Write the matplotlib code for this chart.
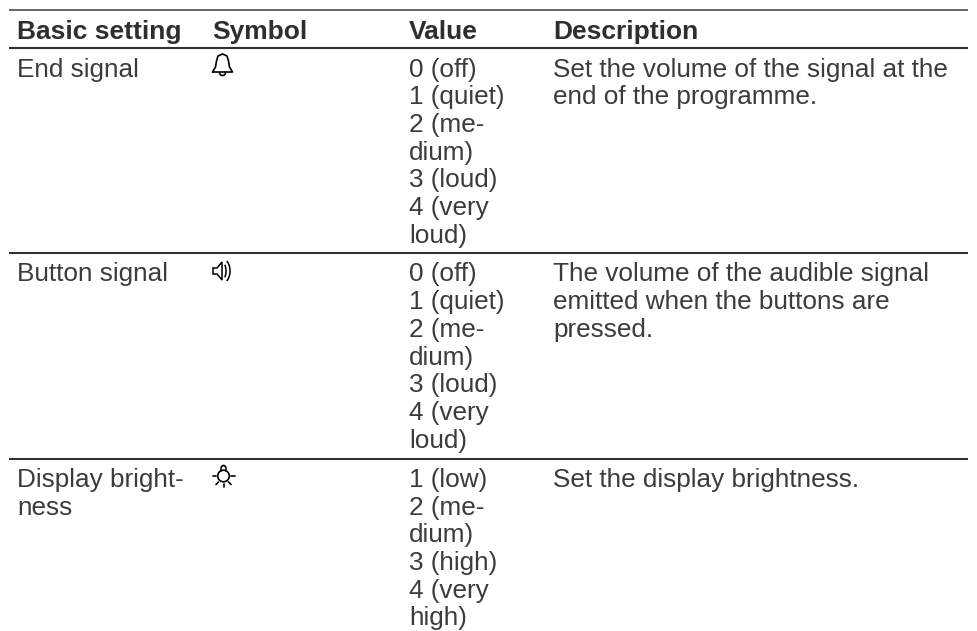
import matplotlib
matplotlib.use('Agg')
import matplotlib.pyplot as plt
from matplotlib.patches import Circle, Polygon, Arc

headers = ['Basic setting', 'Symbol', 'Value', 'Description']
settings = [['End signal'], ['Button signal'], ['Display bright-', 'ness']]
values = [
    ['0 (off)', '1 (quiet)', '2 (me-', 'dium)', '3 (loud)', '4 (very', 'loud)'],
    ['0 (off)', '1 (quiet)', '2 (me-', 'dium)', '3 (loud)', '4 (very', 'loud)'],
    ['1 (low)', '2 (me-', 'dium)', '3 (high)', '4 (very', 'high)'],
]
descriptions = [
    ['Set the volume of the signal at the', 'end of the programme.'],
    ['The volume of the audible signal', 'emitted when the buttons are', 'pressed.'],
    ['Set the display brightness.'],
]

W, H = 977, 631
col_x = [17, 212, 409, 553]
col_edges = [9, 203, 399, 543, 968]
rule_y = [47.5, 252.5, 458.5]
row_base = [76.5, 281.5, 487]
pitch = 27.7
TXT = '#3c3a3b'

fig = plt.figure(figsize=(W / 100, H / 100), dpi=100)
ax = fig.add_axes([0, 0, 1, 1])
ax.set_xlim(0, W)
ax.set_ylim(H, 0)
ax.axis('off')
plt.rcParams['font.family'] = ['Liberation Sans', 'DejaVu Sans']


def rule(y, color, lw):
    for a, b in zip(col_edges[:-1], col_edges[1:]):
        ax.plot([a + 0.4, b - 0.4], [y, y], color=color, lw=lw, solid_capstyle='butt')


rule(10, '#5c5a5b', 1.3)
for y in rule_y:
    rule(y, '#333132', 1.5)

for x, h in zip(col_x, headers):
    ax.text(x, 39, h, fontsize=19, fontweight='bold', color='#2f2d2e', va='baseline')


def block(x, y0, lines):
    for i, s in enumerate(lines):
        ax.text(x, y0 + i * pitch, s, fontsize=18.8, color=TXT, va='baseline')


for i in range(3):
    block(col_x[0], row_base[i], settings[i])
    block(col_x[2], row_base[i], values[i])
    block(col_x[3], row_base[i], descriptions[i])

# symbols
icon = dict(color='black', lw=1.2, solid_capstyle='round', solid_joinstyle='round')
# bell
ax.plot([212.5, 215.5, 216.5, 218, 222.5, 227, 228.5, 229.5, 232.5, 212.5],
        [72, 67, 61, 56, 54, 56, 61, 67, 72, 72], **icon)
ax.add_patch(Arc((222.5, 72.5), 6, 6, theta1=0, theta2=180, color='black', lw=1.2))
# speaker
ax.add_patch(Polygon([(213, 268), (217, 268), (222, 262), (222, 280), (217, 274), (213, 274)],
                     closed=True, fill=False, edgecolor='black', lw=1.1))
ax.add_patch(Arc((223, 271), 6, 15, theta1=-75, theta2=75, color='black', lw=1.1))
ax.add_patch(Arc((224, 271), 12, 22, theta1=-75, theta2=75, color='black', lw=1.1))
# lamp
ax.add_patch(Circle((223.5, 476), 5.8, fill=False, edgecolor='black', lw=1.2))
ax.add_patch(Arc((223.5, 468.5), 5, 6, theta1=180, theta2=360, color='black', lw=1.2))
ax.plot([221, 221], [468.5, 471], **icon)
ax.plot([226, 226], [468.5, 471], **icon)
ax.plot([212.5, 216], [476, 476], **icon)
ax.plot([231, 234.5], [476, 476], **icon)
ax.plot([223.5, 223.5], [483.5, 486.5], **icon)
ax.plot([216, 218.5], [484.5, 482], **icon)
ax.plot([231, 228.5], [484.5, 482], **icon)

fig.savefig('out.png', dpi=100, facecolor='white')
